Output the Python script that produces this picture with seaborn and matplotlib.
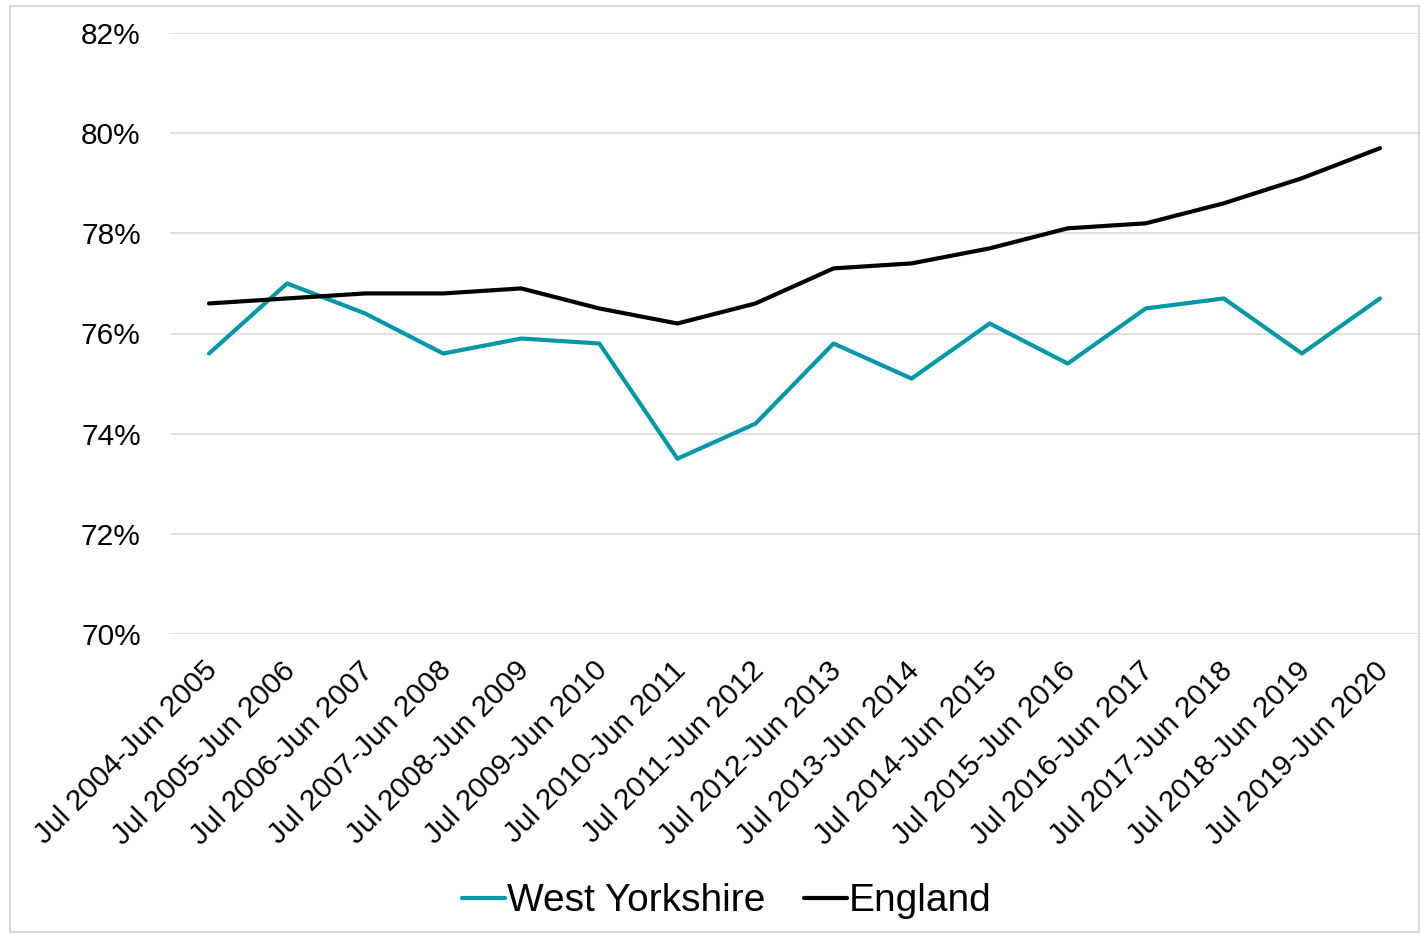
import pandas as pd
import matplotlib.pyplot as plt
import seaborn as sns
from matplotlib.ticker import FuncFormatter
from matplotlib.patches import Rectangle
from matplotlib.transforms import ScaledTranslation

periods = [f"Jul {y}-Jun {y + 1}" for y in range(2004, 2020)]
west_yorkshire = [75.6, 77.0, 76.4, 75.6, 75.9, 75.8, 73.5, 74.2,
                  75.8, 75.1, 76.2, 75.4, 76.5, 76.7, 75.6, 76.7]
england = [76.6, 76.7, 76.8, 76.8, 76.9, 76.5, 76.2, 76.6,
           77.3, 77.4, 77.7, 78.1, 78.2, 78.6, 79.1, 79.7]

df = pd.DataFrame({
    'Period': periods * 2,
    'Rate': west_yorkshire + england,
    'Area': ['West Yorkshire'] * len(periods) + ['England'] * len(periods),
})

sns.set_style('white')
plt.rcParams['font.family'] = ['Liberation Sans', 'DejaVu Sans']
plt.rcParams['text.color'] = 'black'
plt.rcParams['xtick.color'] = 'black'
plt.rcParams['ytick.color'] = 'black'

fig = plt.figure(figsize=(14.2, 9.34), dpi=100)
ax = fig.add_axes([170 / 1420, 1 - 634 / 934, 1249 / 1420, 601 / 934])

sns.lineplot(data=df, x='Period', y='Rate', hue='Area', sort=False,
             palette={'West Yorkshire': '#0097A7', 'England': '#000000'},
             linewidth=3.0, ax=ax)

ax.set_xlim(-0.5, len(periods) - 0.5)
ax.set_ylim(70, 82)
ax.set_yticks(range(70, 83, 2))
ax.yaxis.set_major_formatter(FuncFormatter(lambda v, p: f"{v:.0f}%"))
ax.grid(axis='y', color='#d9d9d9', linewidth=1.2)
ax.set_axisbelow(True)
for s in ax.spines.values():
    s.set_visible(False)
ax.set_xlabel('')
ax.set_ylabel('')
ax.tick_params(axis='y', labelsize=21.5, length=0, pad=21)
ax.tick_params(axis='x', labelsize=21.5, length=0, pad=6)
shift = ScaledTranslation(-6 / 100, -14 / 100, fig.dpi_scale_trans)
for lbl in ax.get_xticklabels():
    lbl.set_rotation(45)
    lbl.set_ha('right')
    lbl.set_rotation_mode('anchor')
    lbl.set_transform(lbl.get_transform() + shift)

ax.legend(loc='center', bbox_to_anchor=(0.446, -0.445), ncol=2, frameon=False,
          fontsize=28, handlelength=1.1, handletextpad=0.05, columnspacing=1.0)

fig.patches.append(Rectangle((10 / 1420, 0.002), 1409 / 1420, 1 - 6 / 934 - 0.002,
                             transform=fig.transFigure, fill=False,
                             edgecolor='#d9d9d9', linewidth=1.5))

fig.savefig('out.png', dpi=100)
plt.close()
